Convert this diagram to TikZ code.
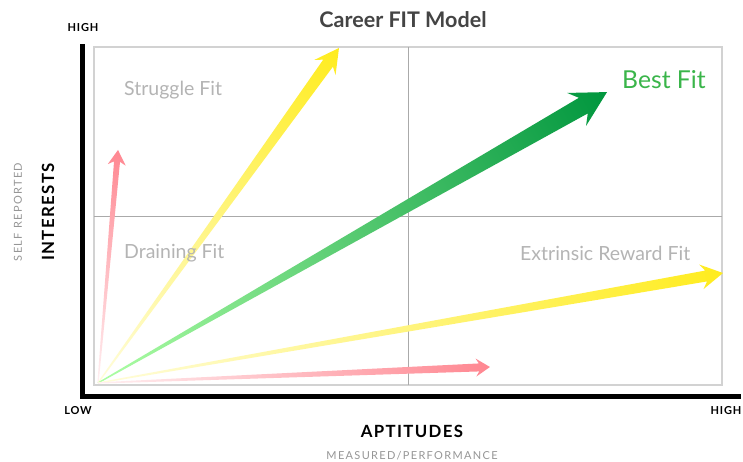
\documentclass[tikz,border=0pt]{standalone}
\usepackage{fontspec}
\setmainfont{Lato}
\newfontfamily\spacedfont[LetterSpace=12]{Lato}
\newfontfamily\widefont[LetterSpace=8]{Lato}
\definecolor{labelgray}{RGB}{180,180,180}
\definecolor{subgray}{RGB}{150,150,150}
\definecolor{titlegray}{RGB}{68,68,68}
\definecolor{boxgray}{RGB}{210,210,210}
\definecolor{midgray}{RGB}{170,170,170}
\definecolor{bestgreen}{RGB}{58,181,74}
\definecolor{pinkend}{RGB}{255,135,145}
\definecolor{pinkstart}{RGB}{255,240,242}
\definecolor{yellowend}{RGB}{255,236,30}
\definecolor{yellowstart}{RGB}{255,253,220}
\definecolor{greenstart}{RGB}{175,255,165}
\definecolor{greenmid}{RGB}{100,238,100}
\definecolor{greenend}{RGB}{0,150,62}
\newcommand\fitarrow[6]{%
  \begin{scope}[transform canvas={shift={(98pt,78pt)},rotate=#1}]
    \shade[#6] (0,-0.6) -- ({#2-0.78*#3},{-#5/2}) -- ({#2-#3},{-#4/2}) -- (#2,0)
      -- ({#2-#3},{#4/2}) -- ({#2-0.78*#3},{#5/2}) -- (0,0.6) -- cycle;
  \end{scope}}
\tikzset{
  quadlabel/.style={text=labelgray,font=\fontsize{19.5}{19.5}\selectfont,inner sep=0pt},
  tick/.style={font=\fontsize{11}{11}\selectfont\bfseries\widefont,inner sep=0pt},
  axistitle/.style={font=\fontsize{16.8}{16.8}\selectfont\bfseries\widefont,inner sep=0pt},
  axissub/.style={font=\fontsize{11}{11}\selectfont\spacedfont,text=subgray,inner sep=0pt}
}
\begin{document}
\begin{tikzpicture}[x=1pt,y=1pt]
\useasboundingbox (0,0) rectangle (743,461);
\fill[white] (0,0) rectangle (743,461);
% plot box
\draw[boxgray,line width=1.5pt] (94,76) rectangle (722,414);
\draw[midgray,line width=0.8pt] (408,76) -- (408,414);
\draw[midgray,line width=0.8pt] (94,245) -- (722,245);
% axes
\fill[black] (80,62) rectangle (85,417);
\fill[black] (80,62) rectangle (741,67);
% arrows
\fitarrow{85.09}{233.9}{15}{18}{6}{left color=pinkstart,right color=pinkend}
\fitarrow{54.27}{412.7}{24}{26}{12}{left color=yellowstart,right color=yellowend}
\fitarrow{29.75}{586.3}{35}{38}{18}{left color=greenstart,middle color=greenmid,right color=greenend}
\fitarrow{9.98}{634.6}{22}{25}{11}{left color=yellowstart,right color=yellowend}
\fitarrow{2.34}{392.3}{14}{18}{8}{left color=pinkstart,right color=pinkend}
% texts
\node[font=\fontsize{21.5}{21.5}\selectfont\bfseries,text=titlegray,inner sep=0pt] (title) at (403,441) {Career FIT Model};
\node[tick] (yhigh) at (83,433) {HIGH};
\node[tick] (xlow) at (78,50) {LOW};
\node[tick] (xhigh) at (726,50) {HIGH};
\node[quadlabel,anchor=west] (struggle) at (124,371) {Struggle Fit};
\node[quadlabel,anchor=west] (draining) at (124,208) {Draining Fit};
\node[quadlabel,anchor=west] (extrinsic) at (520,208) {Extrinsic Reward Fit};
\node[text=bestgreen,font=\fontsize{24.7}{24.7}\selectfont,inner sep=0pt,anchor=west] (best) at (622,381) {Best Fit};
\node[axistitle] (apt) at (412,30) {APTITUDES};
\node[axissub] (aptsub) at (412,5) {MEASURED/PERFORMANCE};
\node[axistitle,rotate=90] (int) at (48,249) {INTERESTS};
\node[axissub,rotate=90] (intsub) at (18,249) {SELF REPORTED};
\end{tikzpicture}
\end{document}
